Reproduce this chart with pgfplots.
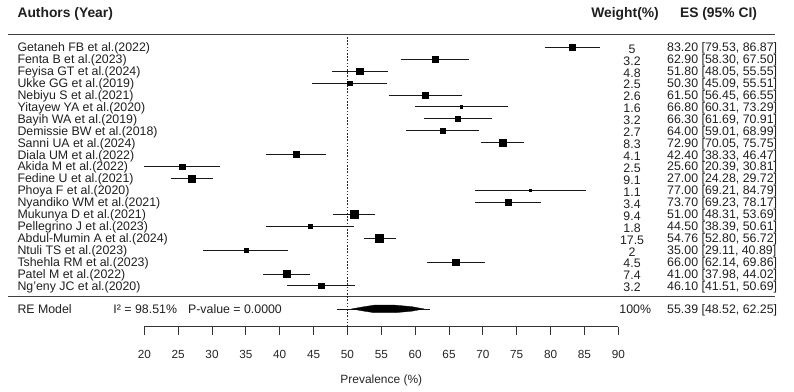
\documentclass[border=0pt]{standalone}
\usepackage{fontspec}
\setmainfont{Liberation Sans}
\usepackage{pgfplots}
\usepackage{pgfplotstable}
\pgfplotsset{compat=1.18}

\pgfplotstableread{
y es lo hi ms
0 83.20 79.53 86.87 3.2
-1 62.90 58.30 67.50 3.0
-2 51.80 48.05 55.55 3.3
-3 50.30 45.09 55.51 2.3
-4 61.50 56.45 66.55 2.7
-5 66.80 60.31 73.29 1.3
-6 66.30 61.69 70.91 2.7
-7 64.00 59.01 68.99 2.5
-8 72.90 70.05 75.75 3.5
-9 42.40 38.33 46.47 3.0
-10 25.60 20.39 30.81 2.6
-11 27.00 24.28 29.72 3.8
-12 77.00 69.21 84.79 1.0
-13 73.70 69.23 78.17 2.8
-14 51.00 48.31 53.69 3.7
-15 44.50 38.39 50.61 2.2
-16 54.76 52.80 56.72 4.0
-17 35.00 29.11 40.89 2.0
-18 66.00 62.14 69.86 3.3
-19 41.00 37.98 44.02 3.5
-20 46.10 41.51 50.69 2.8
}\studies

\tikzset{
  lab/.style={font=\fontsize{12.4}{14}\selectfont, inner sep=0pt, text=black!88, yshift=-4.4bp},
  hdr/.style={font=\fontsize{13.9}{15}\selectfont\bfseries, inner sep=0pt, text=black!88, yshift=-5bp},
}
\newcommand\studyrow[4]{%
  \node[lab, anchor=base west] at (axis cs:1.244,#1) {#2};
  \node[lab, anchor=base, yshift=-1.5bp] at (axis cs:92.03,#1) {#3};
  \node[lab, anchor=base west] at (axis cs:97.2,#1) {#4};
}

\begin{document}
\begin{tikzpicture}
\begin{axis}[
  scale only axis, width=474bp, height=326.7bp,
  xmin=20, xmax=90, ymin=-23.42, ymax=3.965,
  clip=false,
  axis x line=bottom, axis y line=none,
  axis line style={-, black!80, line width=0.8bp},
  xtick={20,25,...,90},
  ytick=\empty,
  tick align=outside,
  major tick length=8bp,
  x tick style={black!80, line width=0.8bp},
  /pgf/number format/assume math mode=true,
  xticklabel style={font=\fontsize{11.8}{13}\selectfont, text=black!85, yshift=-12bp},
  xlabel={Prevalence (\%)},
  xlabel style={at={(axis cs:55,-27.89)}, anchor=center, inner sep=0pt,
    font=\fontsize{12}{14}\selectfont, text=black!85},
]
% bounding box of the whole picture
\path (axis cs:-1.312,-28.89) rectangle (axis cs:115.95,3.965);

% separators
\draw[black!75, line width=1bp] (axis cs:-0.1,1.07) -- (axis cs:113.2,1.07);
\draw[black!75, line width=1bp] (axis cs:-0.1,-20.92) -- (axis cs:113.2,-20.92);
% reference line at 50
\draw[black!85, line width=0.8bp, dash pattern=on 1.6bp off 1.6bp] (axis cs:50,0.86) -- (axis cs:50,-23.42);

% headers
\node[hdr, anchor=base west] at (axis cs:1.244,2.9) {Authors (Year)};
\node[hdr, anchor=base] at (axis cs:91.0,2.9) {Weight(\%)};
\node[hdr, anchor=base west] at (axis cs:99.09,2.9) {ES (95\% CI)};

% studies: CI whiskers and weighted squares
\addplot[black, scatter, only marks, mark=square*,
  scatter/use mapped color={draw=black, fill=black},
  visualization depends on={\thisrow{ms} \as \msz},
  scatter/@pre marker code/.append style={/tikz/mark size=\msz},
  error bars/.cd, x dir=both, x explicit,
  error bar style={line width=0.9bp, black!90},
  error mark options={mark size=2.6bp, line width=0.9bp, black!90}]
  table[x=es, y=y, x error plus expr=\thisrow{hi}-\thisrow{es},
        x error minus expr=\thisrow{es}-\thisrow{lo}] {\studies};

% RE model summary
\addplot[black!90, line width=0.8bp] coordinates {(48.52,-21.93) (62.25,-21.93)};
\addplot[black, fill=black, line width=0.3bp] coordinates {
  (50.6,-21.93) (52.5,-21.74) (54.0,-21.61) (57.0,-21.61) (59.5,-21.74) (61.3,-21.93)
  (59.5,-22.12) (57.0,-22.25) (54.0,-22.25) (52.5,-22.12) (50.6,-21.93)};

\studyrow{0}{Getaneh FB et al.(2022)}{5}{83.20 [79.53, 86.87]}
\studyrow{-1}{Fenta B et al.(2023)}{3.2}{62.90 [58.30, 67.50]}
\studyrow{-2}{Feyisa GT et al.(2024)}{4.8}{51.80 [48.05, 55.55]}
\studyrow{-3}{Ukke GG et al.(2019)}{2.5}{50.30 [45.09, 55.51]}
\studyrow{-4}{Nebiyu S et al.(2021)}{2.6}{61.50 [56.45, 66.55]}
\studyrow{-5}{Yitayew YA et al.(2020)}{1.6}{66.80 [60.31, 73.29]}
\studyrow{-6}{Bayih WA et al.(2019)}{3.2}{66.30 [61.69, 70.91]}
\studyrow{-7}{Demissie BW et al.(2018)}{2.7}{64.00 [59.01, 68.99]}
\studyrow{-8}{Sanni UA et al.(2024)}{8.3}{72.90 [70.05, 75.75]}
\studyrow{-9}{Diala UM et al.(2022)}{4.1}{42.40 [38.33, 46.47]}
\studyrow{-10}{Akida M et al.(2022)}{2.5}{25.60 [20.39, 30.81]}
\studyrow{-11}{Fedine U et al.(2021)}{9.1}{27.00 [24.28, 29.72]}
\studyrow{-12}{Phoya F et al.(2020)}{1.1}{77.00 [69.21, 84.79]}
\studyrow{-13}{Nyandiko WM et al.(2021)}{3.4}{73.70 [69.23, 78.17]}
\studyrow{-14}{Mukunya D et al.(2021)}{9.4}{51.00 [48.31, 53.69]}
\studyrow{-15}{Pellegrino J et al.(2023)}{1.8}{44.50 [38.39, 50.61]}
\studyrow{-16}{Abdul-Mumin A et al.(2024)}{17.5}{54.76 [52.80, 56.72]}
\studyrow{-17}{Ntuli TS et al.(2023)}{2}{35.00 [29.11, 40.89]}
\studyrow{-18}{Tshehla RM et al.(2023)}{4.5}{66.00 [62.14, 69.86]}
\studyrow{-19}{Patel M et al.(2022)}{7.4}{41.00 [37.98, 44.02]}
\studyrow{-20}{Ng'eny JC et al.(2020)}{3.2}{46.10 [41.51, 50.69]}

% RE model row
\node[lab, anchor=base west] at (axis cs:1.244,-21.96) {RE Model};
\node[lab, anchor=base west] at (axis cs:15.42,-21.96) {I² = 98.51\%\hspace{0.9em}P-value = 0.0000};
\node[lab, anchor=base] at (axis cs:92.5,-21.96) {100\%};
\node[lab, anchor=base west] at (axis cs:97.2,-21.96) {55.39 [48.52, 62.25]};
\end{axis}
\end{tikzpicture}
\end{document}
